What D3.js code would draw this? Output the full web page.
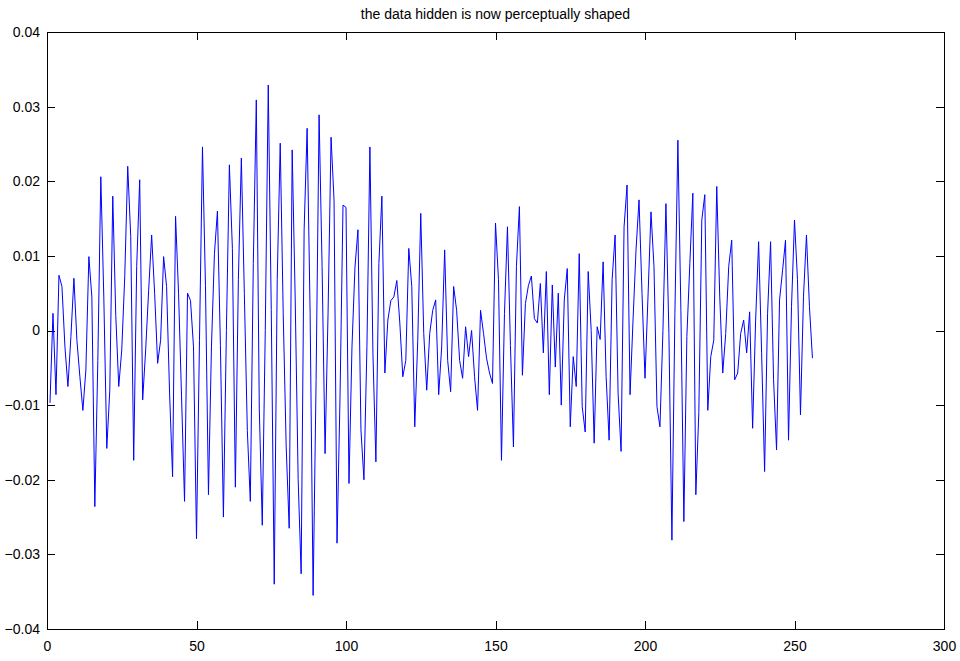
<!DOCTYPE html>
<html>
<head>
<meta charset="utf-8">
<script src="https://cdn.jsdelivr.net/npm/d3@7"></script>
<style>
  html, body { margin: 0; padding: 0; background: #fff; }
  svg { display: block; }
  text { font-family: "Liberation Sans", Arial, sans-serif; fill: #000; }
</style>
</head>
<body>
<svg id="chart" width="960" height="661"></svg>
<script>
// Signal samples, one per index 1..256
const samples = [
  -0.0097, 0.0023, -0.0086, 0.0074, 0.0059, -0.0022, -0.0075, -0.0008, 0.0070, -0.0013,
  -0.0062, -0.0107, -0.0053, 0.0099, 0.0045, -0.0236, -0.0040, 0.0206, 0.0045, -0.0158,
  -0.0080, 0.0180, 0.0020, -0.0075, -0.0026, 0.0072, 0.0220, 0.0126, -0.0174, 0.0086,
  0.0202, -0.0093, -0.0026, 0.0054, 0.0128, 0.0050, -0.0044, -0.0013, 0.0099, 0.0059,
  -0.0084, -0.0196, 0.0153, 0.0050, -0.0089, -0.0229, 0.0050, 0.0040, -0.0022, -0.0279,
  -0.0013, 0.0246, 0.0060, -0.0220, -0.0022, 0.0103, 0.0160, -0.0020, -0.0250, 0.0000,
  0.0222, 0.0110, -0.0210, 0.0068, 0.0231, 0.0050, -0.0134, -0.0229, 0.0090, 0.0309,
  -0.0105, -0.0261, 0.0000, 0.0329, 0.0028, -0.0340, 0.0068, 0.0251, 0.0023, -0.0156,
  -0.0265, 0.0242, 0.0045, -0.0200, -0.0326, 0.0135, 0.0271, 0.0023, -0.0355, -0.0066,
  0.0289, 0.0086, -0.0165, 0.0023, 0.0259, 0.0175, -0.0285, -0.0089, 0.0168, 0.0165,
  -0.0205, -0.0022, 0.0085, 0.0135, -0.0133, -0.0200, -0.0022, 0.0246, -0.0030, -0.0176,
  0.0090, 0.0180, -0.0057, 0.0014, 0.0040, 0.0045, 0.0067, 0.0010, -0.0062, -0.0040,
  0.0110, 0.0059, -0.0129, -0.0013, 0.0157, -0.0004, -0.0080, -0.0004, 0.0027, 0.0041,
  -0.0086, -0.0022, 0.0108, -0.0040, -0.0082, 0.0059, 0.0027, -0.0040, -0.0064, 0.0005,
  -0.0035, 0.0000, -0.0062, -0.0107, 0.0027, -0.0004, -0.0037, -0.0057, -0.0071, 0.0144,
  0.0068, -0.0174, 0.0023, 0.0139, -0.0020, -0.0156, 0.0086, 0.0166, -0.0060, 0.0036,
  0.0060, 0.0073, 0.0016, 0.0010, 0.0063, -0.0030, 0.0079, -0.0086, 0.0061, -0.0049,
  0.0050, -0.0100, 0.0041, 0.0083, -0.0129, -0.0035, -0.0075, 0.0103, -0.0102, -0.0136,
  0.0079, 0.0000, -0.0151, 0.0005, -0.0012, 0.0092, -0.0062, -0.0147, 0.0068, 0.0128,
  -0.0084, -0.0162, 0.0139, 0.0195, -0.0086, 0.0014, 0.0108, 0.0175, 0.0050, -0.0064,
  0.0045, 0.0159, 0.0086, -0.0102, -0.0129, 0.0000, 0.0170, -0.0004, -0.0281, 0.0023,
  0.0255, 0.0027, -0.0256, -0.0008, 0.0090, 0.0184, -0.0220, -0.0110, 0.0148, 0.0182,
  -0.0107, -0.0035, -0.0013, 0.0193, 0.0045, -0.0057, -0.0004, 0.0086, 0.0121, -0.0066,
  -0.0057, -0.0004, 0.0014, -0.0030, 0.0025, -0.0131, 0.0014, 0.0119, -0.0030, -0.0189,
  0.0023, 0.0119, -0.0066, -0.0160, 0.0041, 0.0080, 0.0121, -0.0147, 0.0032, 0.0148,
  0.0068, -0.0113, 0.0045, 0.0128, 0.0032, -0.0037
];

const xTicks = [0, 50, 100, 150, 200, 250, 300];
const yTicks = [-0.04, -0.03, -0.02, -0.01, 0, 0.01, 0.02, 0.03, 0.04];
const titleText = "the data hidden is now perceptually shaped";

const svg = d3.select("#chart");
const box = { left: 47, right: 944, top: 32, bottom: 629 };

const x = d3.scaleLinear().domain([0, 300]).range([box.left, box.right]);
const y = d3.scaleLinear().domain([-0.04, 0.04]).range([box.bottom, box.top]);

const fmtY = d => (d === 0 ? "0" : d3.format(".2f")(d));
const tickLen = 8;
const fontSize = 14;

// Bottom axis: labels outside, tick marks pointing into the plot
const gx = svg.append("g").attr("transform", `translate(0,${box.bottom})`)
  .call(d3.axisBottom(x).tickValues(xTicks).tickSize(0).tickPadding(12).tickFormat(d3.format("d")));
gx.select(".domain").remove();
gx.selectAll("text").attr("font-size", fontSize).style("font-family", "Liberation Sans, Arial, sans-serif");

const gy = svg.append("g").attr("transform", `translate(${box.left},0)`)
  .call(d3.axisLeft(y).tickValues(yTicks).tickSize(0).tickPadding(7).tickFormat(fmtY));
gy.select(".domain").remove();
gy.selectAll("text").attr("font-size", fontSize).style("font-family", "Liberation Sans, Arial, sans-serif");

// Inward tick marks on all four sides
const ticks = svg.append("g").attr("stroke", "#000").attr("stroke-width", 1).attr("shape-rendering", "crispEdges");
xTicks.forEach(v => {
  const px = Math.round(x(v)) + 0.5;
  ticks.append("line").attr("x1", px).attr("x2", px).attr("y1", box.bottom).attr("y2", box.bottom - tickLen);
  ticks.append("line").attr("x1", px).attr("x2", px).attr("y1", box.top).attr("y2", box.top + tickLen);
});
yTicks.forEach(v => {
  const py = Math.round(y(v)) + 0.5;
  ticks.append("line").attr("x1", box.left).attr("x2", box.left + tickLen).attr("y1", py).attr("y2", py);
  ticks.append("line").attr("x1", box.right).attr("x2", box.right - tickLen).attr("y1", py).attr("y2", py);
});

// Signal trace
const line = d3.line().x((d, i) => x(i + 1)).y(d => y(d));
svg.append("path").datum(samples)
  .attr("fill", "none").attr("stroke", "#0000ff").attr("stroke-width", 1)
  .attr("d", line);

// Axes frame
svg.append("rect")
  .attr("x", box.left + 0.5).attr("y", box.top + 0.5)
  .attr("width", box.right - box.left).attr("height", box.bottom - box.top)
  .attr("fill", "none").attr("stroke", "#000").attr("stroke-width", 1)
  .attr("shape-rendering", "crispEdges");

svg.append("text")
  .attr("x", (box.left + box.right) / 2).attr("y", 19)
  .attr("text-anchor", "middle").attr("font-size", fontSize)
  .text(titleText);
</script>
</body>
</html>
